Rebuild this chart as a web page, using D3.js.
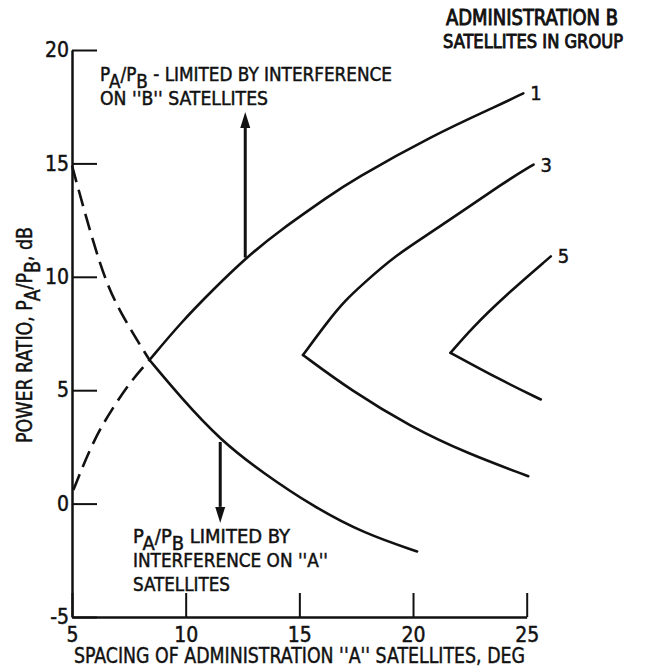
<!DOCTYPE html>
<html>
<head>
<meta charset="utf-8">
<script src="https://cdn.jsdelivr.net/npm/d3@7"></script>
<style>
  body { margin: 0; background: #fff; }
  text { font-family: "Liberation Sans Narrow", "DejaVu Sans Condensed", "Liberation Sans", sans-serif; fill: #111; stroke: #111; stroke-width: 0.45; }
</style>
</head>
<body>
<svg id="chart"></svg>
<script>
// axis ticks
var xTicks = [5, 10, 15, 20, 25];
var yTicks = [-5, 0, 5, 10, 15, 20];

// satellites in group (curve labels)
var groups = ["1", "3", "5"];

// each group: upper branch and lower branch, [spacing deg, ratio dB]
var upper1 = [[8.41, 6.33], [9.76, 7.95], [11.22, 9.45], [12.70, 10.88], [14.16, 12.06], [16.37, 13.6], [17.25, 14.21], [20.92, 16.27], [23.85, 17.6], [24.85, 18.09]];
var lower1 = [[8.41, 6.33], [9.76, 4.71], [11.52, 2.8], [13.43, 1.33], [15.63, -0.14], [17.83, -1.31], [20.18, -2.11]];
var upper3 = [[15.16, 6.55], [16.29, 8.09], [17.03, 8.97], [17.76, 9.65], [19.23, 10.95], [20.85, 11.98], [24.15, 14.26], [25.3, 14.95]];
var lower3 = [[15.16, 6.55], [17.25, 5.0], [19.89, 3.39], [22.39, 2.21], [25.07, 1.21]];
var upper5 = [[21.65, 6.65], [22.6, 7.75], [24.0, 9.12], [26.06, 10.9]];
var lower5 = [[21.65, 6.65], [23.85, 5.45], [25.62, 4.59]];

// dashed extensions of group 1
var dashFall = [[5, 14.9], [6.23, 10.4], [7.04, 8.53], [8.41, 6.33]];
var dashRise = [[5.06, 0.6], [5.94, 2.8], [6.82, 4.27], [7.63, 5.45], [8.41, 6.33]];

// arrows: x, from y, to y
var arrowUp = [12.62, 10.85, 17.27];
var arrowDown = [11.52, 2.72, -0.85];

var width = 646, height = 671;
var svg = d3.select("#chart").attr("width", width).attr("height", height);

var x = d3.scaleLinear().domain([5, 25]).range([72, 526.7]);
var y = d3.scaleLinear().domain([-5, 20]).range([617, 50]);

var line = d3.line()
    .x(d => x(d[0]))
    .y(d => y(d[1]))
    .curve(d3.curveBasis);

// axes
var yAxis = svg.append("g")
    .attr("transform", `translate(${x(5)},0)`)
    .call(d3.axisLeft(y).tickValues(yTicks).tickFormat(d => String(d))
        .tickSize(-25).tickSizeOuter(0).tickPadding(3));
var xAxis = svg.append("g")
    .attr("transform", `translate(0,${y(-5)})`)
    .call(d3.axisBottom(x).tickValues(xTicks).tickFormat(d => String(d))
        .tickSize(-24).tickSizeOuter(0).tickPadding(10));

[xAxis, yAxis].forEach(a => {
    a.select(".domain").attr("stroke", "#111").attr("stroke-width", 2.5);
    a.selectAll(".tick line").attr("stroke", "#111").attr("stroke-width", 2);
    a.selectAll(".tick text").attr("font-size", 21).attr("fill", "#111")
      .style("font-family", "'Liberation Sans Narrow', 'DejaVu Sans Condensed', sans-serif");
});
xAxis.selectAll(".tick text").attr("dy", "0.72em");

// curves
var solid = [upper1, lower1, upper3, lower3, upper5, lower5];
svg.append("g")
    .selectAll("path")
    .data(solid)
    .join("path")
    .attr("d", line)
    .attr("fill", "none")
    .attr("stroke", "#111")
    .attr("stroke-width", 2.6)
    .attr("stroke-linecap", "round");

svg.append("g")
    .selectAll("path")
    .data([dashFall, dashRise])
    .join("path")
    .attr("d", line)
    .attr("fill", "none")
    .attr("stroke", "#111")
    .attr("stroke-width", 2.6)
    .attr("stroke-dasharray", "17,8");

// curve labels at the upper ends
var ends = [upper1, upper3, upper5];
svg.append("g")
    .selectAll("text")
    .data(groups)
    .join("text")
    .attr("x", (d, i) => x(ends[i][ends[i].length - 1][0]) + 7)
    .attr("y", (d, i) => y(ends[i][ends[i].length - 1][1]) + 7)
    .attr("font-size", 20)
    .text(d => d);

// arrows with a filled head
[arrowUp, arrowDown].forEach(a => {
    var px = x(a[0]), y0 = y(a[1]), y1 = y(a[2]);
    var dir = y1 < y0 ? 1 : -1;   // 1: head points up
    var base = y1 + dir * 16;
    svg.append("line")
        .attr("x1", px).attr("x2", px)
        .attr("y1", y0).attr("y2", base)
        .attr("stroke", "#111")
        .attr("stroke-width", 3);
    svg.append("path")
        .attr("d", `M${px - 5},${base} L${px},${y1} L${px + 5},${base} Z`)
        .attr("fill", "#111");
});

// text with P_A/P_B subscripts
function ratioText(sel, before, after, size) {
    sel.append("tspan").text(before + "P");
    sel.append("tspan").attr("dy", size * 0.38).text("A");
    sel.append("tspan").attr("dy", -size * 0.38).text("/P");
    sel.append("tspan").attr("dy", size * 0.38).text("B");
    sel.append("tspan").attr("dy", -size * 0.38).text(after);
}

function label(px, py, size, len) {
    return svg.append("text")
        .attr("x", px).attr("y", py)
        .attr("font-size", size)
        .attr("textLength", len)
        .attr("lengthAdjust", "spacingAndGlyphs");
}

ratioText(label(100, 81, 19, 292), "", " - LIMITED BY INTERFERENCE", 19);
label(100, 105, 19, 168).text("ON ''B'' SATELLITES");

ratioText(label(133, 543, 19, 157), "", " LIMITED BY", 19);
label(133, 567, 19, 195).text("INTERFERENCE ON ''A''");
label(133, 591, 19, 97).text("SATELLITES");

label(446, 25, 21, 172).style("stroke-width", 0.9).text("ADMINISTRATION B");
label(443, 48, 20, 180).style("stroke-width", 0.9).text("SATELLITES IN GROUP");

label(74, 663, 22, 451).text("SPACING OF ADMINISTRATION ''A'' SATELLITES, DEG");

var yTitle = svg.append("text")
    .attr("transform", "translate(32,443) rotate(-90)")
    .attr("font-size", 21)
    .attr("textLength", 216)
    .attr("lengthAdjust", "spacingAndGlyphs");
ratioText(yTitle, "POWER RATIO, ", ", dB", 21);
</script>
</body>
</html>
